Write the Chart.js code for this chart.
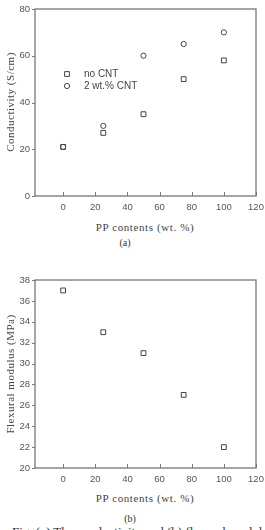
<!DOCTYPE html>
<html>
<head>
<meta charset="utf-8">
<script src="https://cdn.jsdelivr.net/npm/chart.js@4/dist/chart.umd.min.js"></script>
<style>
  html, body { margin:0; padding:0; background:#fff; width:265px; height:530px; overflow:hidden; }
  #wrap { position:relative; width:265px; height:530px; overflow:hidden; }
  canvas { position:absolute; left:0; }
  .t { position:absolute; font-family:"Liberation Serif", serif; color:#444; white-space:nowrap; }
  .xt { font-size:11px; letter-spacing:0.6px; transform:translate(-50%,-50%); }
  .yt { font-size:11px; letter-spacing:0.5px; transform:translate(-50%,-50%) rotate(-90deg); }
  .lab { font-size:10px; transform:translate(-50%,-50%); color:#333; }
</style>
</head>
<body>
<div id="wrap">
  <canvas id="ca" width="265" height="220" style="top:0px"></canvas>
  <canvas id="cb" width="265" height="220" style="top:271px"></canvas>
  <div class="t yt" style="left:10px; top:102px;">Conductivity (S/cm)</div>
  <div class="t xt" style="left:145px; top:227px;">PP contents (wt. %)</div>
  <div class="t lab" style="left:125px; top:242px;">(a)</div>
  <div class="t yt" style="left:10px; top:374px;">Flexural modulus (MPa)</div>
  <div class="t xt" style="left:145px; top:498px;">PP contents (wt. %)</div>
  <div class="t lab" style="left:130px; top:518px;">(b)</div>
  <div class="t" style="left:12px; top:524px; font-size:13px; color:#333;">Fig. (a) The conductivity and (b) flexural modulus</div>
</div>
<script>
// ---- data ----
const ppContents = [0, 25, 50, 75, 100];
const condNoCNT = [21, 27, 35, 50, 58];
const cond2CNT = [21, 30, 60, 65, 70];
const flexModulus = [37, 33, 31, 27, 22];
const xTickValues = [0, 20, 40, 60, 80, 100, 120];
const yTicksA = [0, 20, 40, 60, 80];
const yTicksB = [20, 22, 24, 26, 28, 30, 32, 34, 36, 38];
const legendLabels = ['no CNT', '2 wt.% CNT'];

const pts = (xs, ys) => xs.map((x, i) => ({x: x, y: ys[i]}));

const frameColor = '#777';
const tickFont = {family: '"Liberation Sans", Arial, sans-serif', size: 9.5};

const framePlugin = {
  id: 'frame',
  afterDatasetsDraw(chart, args, opts) {
    const {ctx, chartArea: a, scales} = chart;
    ctx.save();
    ctx.strokeStyle = frameColor;
    ctx.lineWidth = 1.3;
    ctx.strokeRect(a.left, a.top, a.right - a.left, a.bottom - a.top);
    ctx.lineWidth = 1;
    ctx.beginPath();
    scales.x.ticks.forEach(t => {
      const px = Math.round(scales.x.getPixelForValue(t.value)) + 0.5;
      ctx.moveTo(px, a.bottom);
      ctx.lineTo(px, a.bottom - 4);
    });
    scales.y.ticks.forEach(t => {
      const py = Math.round(scales.y.getPixelForValue(t.value)) + 0.5;
      ctx.moveTo(a.left, py);
      ctx.lineTo(a.left - 3, py);
    });
    ctx.stroke();
    if (opts && opts.legend) {
      chart.data.datasets.forEach((ds, i) => {
        const lx = 67, ly = 74 + i * 12;
        ctx.strokeStyle = ds.borderColor;
        ctx.fillStyle = 'rgba(0,0,0,0)';
        ctx.lineWidth = ds.borderWidth;
        Chart.helpers.drawPoint(ctx, {pointStyle: ds.pointStyle, radius: ds.pointRadius, borderWidth: ds.borderWidth, rotation: 0}, lx, ly);
        ctx.fillStyle = '#444';
        ctx.font = '10px "Liberation Sans", Arial, sans-serif';
        ctx.textBaseline = 'middle';
        ctx.textAlign = 'left';
        ctx.fillText(legendLabels[i], 84, ly);
      });
    }
    ctx.restore();
  }
};

function makeChart(id, datasets, yMin, yMax, yTicks, xHeight, legend) {
  return new Chart(document.getElementById(id), {
    type: 'scatter',
    data: {datasets: datasets},
    options: {
      responsive: false,
      animation: false,
      devicePixelRatio: 1,
      layout: {padding: {top: 9, right: 9, left: 0, bottom: 0}},
      plugins: {legend: {display: false}, tooltip: {enabled: false}, frame: {legend: legend}},
      scales: {
        x: {
          type: 'linear', min: -17.5, max: 120,
          grid: {display: false, drawTicks: false},
          border: {display: false},
          ticks: {font: tickFont, color: '#555', padding: 6, autoSkip: false, maxRotation: 0},
          afterBuildTicks: s => { s.ticks = xTickValues.map(v => ({value: v})); },
          afterFit: s => { s.height = xHeight; s.paddingLeft = 0; s.paddingRight = 0; }
        },
        y: {
          type: 'linear', min: yMin, max: yMax,
          grid: {display: false, drawTicks: false},
          border: {display: false},
          ticks: {font: tickFont, color: '#555', padding: 5, autoSkip: false},
          afterBuildTicks: s => { s.ticks = yTicks.map(v => ({value: v})); },
          afterFit: s => { s.width = 35; s.paddingTop = 0; s.paddingBottom = 0; }
        }
      }
    },
    plugins: [framePlugin]
  });
}

const ptStyle = (style, r) => ({
  pointStyle: style, pointRadius: r, pointHoverRadius: r,
  borderColor: '#444', backgroundColor: 'rgba(0,0,0,0)', borderWidth: 1, showLine: false
});

makeChart('ca', [
  Object.assign({label: legendLabels[0], data: pts(ppContents, condNoCNT)}, ptStyle('rect', 3.4)),
  Object.assign({label: legendLabels[1], data: pts(ppContents, cond2CNT)}, ptStyle('circle', 2.6))
], 0, 80, yTicksA, 24, true);

makeChart('cb', [
  Object.assign({label: 'Flexural modulus', data: pts(ppContents, flexModulus)}, ptStyle('rect', 3.4))
], 20, 38, yTicksB, 23, false);
</script>
</body>
</html>
